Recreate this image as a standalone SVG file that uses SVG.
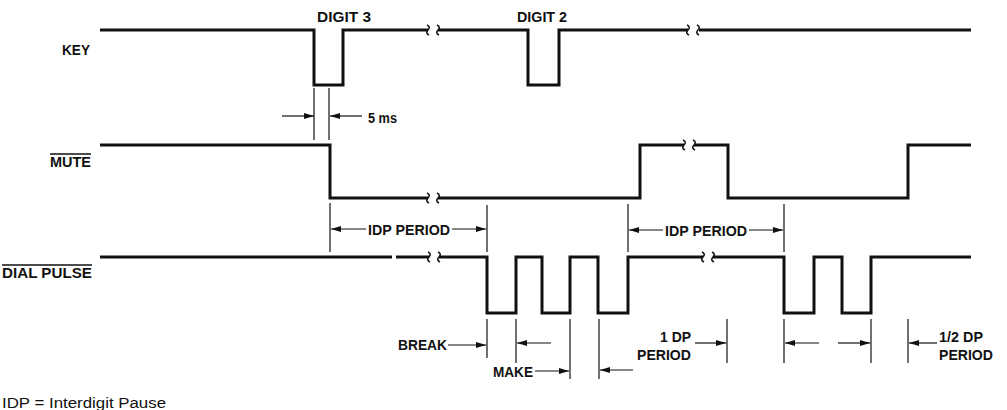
<svg xmlns="http://www.w3.org/2000/svg" width="1007" height="410" viewBox="0 0 1007 410">
<defs>
<style>
.sig{fill:none;stroke:#111;stroke-width:3;stroke-linejoin:miter;stroke-linecap:butt}
.brk{fill:none;stroke:#111;stroke-width:1.5}
.dim{fill:none;stroke:#111;stroke-width:1.2}
.arr{fill:none;stroke:#111;stroke-width:1.2;marker-end:url(#ah)}
.lbl{font-family:"Liberation Sans",Arial,sans-serif;font-weight:bold;font-size:14px;fill:#111}
.note{font-family:"Liberation Sans",Arial,sans-serif;font-size:14px;fill:#111}
.ov{stroke:#111;stroke-width:1.5}
</style>
<marker id="ah" viewBox="0 0 10 6" refX="10" refY="3" markerWidth="10" markerHeight="6" markerUnits="userSpaceOnUse" orient="auto">
<path d="M0,0 L10,3 L0,6 z" fill="#111"/>
</marker>
</defs>
<rect width="1007" height="410" fill="#fff"/>

<g id="labels">
<text class="lbl" x="62" y="55" textLength="28" lengthAdjust="spacingAndGlyphs">KEY</text>
<text class="lbl" x="50" y="167" textLength="41" lengthAdjust="spacingAndGlyphs">MUTE</text>
<line class="ov" x1="50" y1="154" x2="91" y2="154"/>
<text class="lbl" x="2" y="278" textLength="90" lengthAdjust="spacingAndGlyphs">DIAL PULSE</text>
<line class="ov" x1="2" y1="265" x2="92" y2="265"/>
<text class="note" x="2" y="408" textLength="164" lengthAdjust="spacingAndGlyphs">IDP = Interdigit Pause</text>
</g>

<g id="key">
<path class="sig" d="M100,30 H314 V85 H343 V30 H428 M438,30 H528 V85 H559 V30 H688 M699,30 H971"/>
<path class="brk" d="M427,25 q4,2 1,5 q-3,3 1,5 M437,25 q4,2 1,5 q-3,3 1,5"/>
<path class="brk" d="M687,25 q4,2 1,5 q-3,3 1,5 M697,25 q4,2 1,5 q-3,3 1,5"/>
<text class="lbl" x="317" y="22" textLength="54" lengthAdjust="spacingAndGlyphs">DIGIT 3</text>
<text class="lbl" x="517" y="22" textLength="50" lengthAdjust="spacingAndGlyphs">DIGIT 2</text>
</g>

<g id="mute">
<path class="sig" d="M100,145 H330 V198 H428 M438,198 H640 V145 H684 M694,145 H728 V198 H908 V145 H971"/>
<path class="brk" d="M427,193 q4,2 1,5 q-3,3 1,5 M437,193 q4,2 1,5 q-3,3 1,5"/>
<path class="brk" d="M683,140 q4,2 1,5 q-3,3 1,5 M693,140 q4,2 1,5 q-3,3 1,5"/>
</g>

<g id="dialpulse">
<path class="sig" d="M100,257 H392 M396,257 H429 M439,257 H487 V313 H516 V257 H542 V313 H570 V257 H598 V313 H628 V257 H703 M713,257 H784 V313 H814 V257 H842 V313 H871 V257 H971"/>
<path class="brk" d="M428,252 q4,2 1,5 q-3,3 1,5 M438,252 q4,2 1,5 q-3,3 1,5"/>
<path class="brk" d="M702,252 q4,2 1,5 q-3,3 1,5 M712,252 q4,2 1,5 q-3,3 1,5"/>
</g>

<g id="connectors">
<!-- 5 ms -->
<line class="dim" x1="314" y1="88" x2="314" y2="140"/>
<line class="dim" x1="329" y1="88" x2="329" y2="140"/>
<line class="arr" x1="282" y1="116" x2="314" y2="116"/>
<line class="arr" x1="362" y1="116" x2="330" y2="116"/>
<text class="lbl" x="368" y="123" textLength="29" lengthAdjust="spacingAndGlyphs">5 ms</text>

<!-- IDP period 1 -->
<line class="dim" x1="330" y1="203" x2="330" y2="252"/>
<line class="dim" x1="487" y1="205" x2="487" y2="252"/>
<line class="arr" x1="366" y1="229" x2="331" y2="229"/>
<line class="arr" x1="452" y1="229" x2="486" y2="229"/>
<text class="lbl" x="368" y="235" textLength="82" lengthAdjust="spacingAndGlyphs">IDP PERIOD</text>

<!-- IDP period 2 -->
<line class="dim" x1="628" y1="204" x2="628" y2="252"/>
<line class="dim" x1="784" y1="204" x2="784" y2="252"/>
<line class="arr" x1="663" y1="230" x2="629" y2="230"/>
<line class="arr" x1="749" y1="230" x2="783" y2="230"/>
<text class="lbl" x="665" y="236" textLength="82" lengthAdjust="spacingAndGlyphs">IDP PERIOD</text>

<!-- bottom dimensions -->
<line class="dim" x1="487" y1="319" x2="487" y2="358"/>
<line class="arr" x1="448" y1="345" x2="486" y2="345"/>
<text class="lbl" x="398" y="350" textLength="49" lengthAdjust="spacingAndGlyphs">BREAK</text>

<line class="dim" x1="516" y1="319" x2="516" y2="363"/>
<line class="arr" x1="551" y1="343" x2="517" y2="343"/>

<line class="dim" x1="570" y1="319" x2="570" y2="379"/>
<line class="arr" x1="535" y1="371" x2="569" y2="371"/>
<text class="lbl" x="493" y="377" textLength="40" lengthAdjust="spacingAndGlyphs">MAKE</text>

<line class="dim" x1="599" y1="319" x2="599" y2="379"/>
<line class="arr" x1="633" y1="370" x2="600" y2="370"/>

<line class="dim" x1="727" y1="319" x2="727" y2="363"/>
<line class="arr" x1="695" y1="343" x2="726" y2="343"/>
<text class="lbl" x="660" y="342" textLength="31" lengthAdjust="spacingAndGlyphs">1 DP</text>
<text class="lbl" x="637" y="360" textLength="54" lengthAdjust="spacingAndGlyphs">PERIOD</text>

<line class="dim" x1="784" y1="319" x2="784" y2="363"/>
<line class="arr" x1="819" y1="343" x2="785" y2="343"/>

<line class="dim" x1="871" y1="319" x2="871" y2="363"/>
<line class="arr" x1="838" y1="343" x2="870" y2="343"/>

<line class="dim" x1="908" y1="319" x2="908" y2="363"/>
<line class="arr" x1="937" y1="343" x2="909" y2="343"/>
<text class="lbl" x="939" y="342" textLength="44" lengthAdjust="spacingAndGlyphs">1/2 DP</text>
<text class="lbl" x="939" y="360" textLength="54" lengthAdjust="spacingAndGlyphs">PERIOD</text>
</g>
</svg>
